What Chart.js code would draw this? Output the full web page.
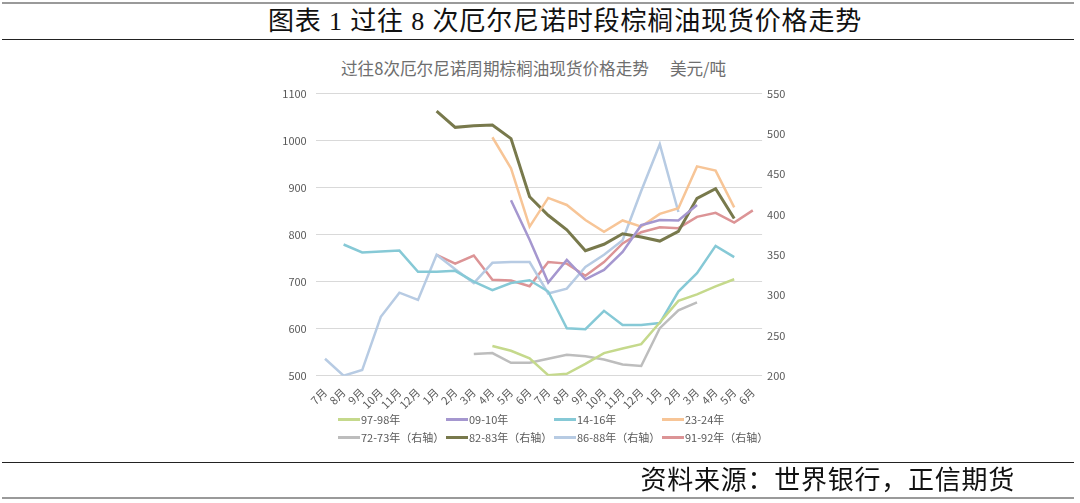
<!DOCTYPE html>
<html lang="zh-CN">
<head>
  <meta charset="UTF-8">
  <title>过往8次厄尔尼诺时段棕榈油现货价格走势</title>
  <script src="https://cdn.jsdelivr.net/npm/chart.js"></script>
  <style>
    html, body {
      margin: 0;
      padding: 0;
      background: #fff;
    }
    body {
      width: 1080px;
      height: 503px;
      position: relative;
      overflow: hidden;
      font-family: "Noto Sans CJK SC", sans-serif;
    }
    .rule {
      position: absolute;
      left: 2px;
      width: 1072px;
    }
    #fig-title {
      position: absolute;
      left: 268px;
      top: 5px;
      font-family: "Liberation Serif", "Noto Sans CJK SC", serif;
      font-size: 26px;
      letter-spacing: 0.85px;
      line-height: 34px;
      color: #111;
      white-space: nowrap;
    }
    #chart-title {
      position: absolute;
      left: 341px;
      top: 57px;
      font-size: 16.6px;
      line-height: 22px;
      color: #6e6e6e;
      white-space: nowrap;
    }
    #chart-title span {
      margin-left: 21px;
    }
    #source {
      position: absolute;
      right: 65px;
      top: 464px;
      font-family: "Liberation Serif", "Noto Sans CJK SC", serif;
      font-size: 26px;
      letter-spacing: 0.75px;
      line-height: 34px;
      color: #111;
      white-space: nowrap;
    }
    #chart-wrap {
      position: absolute;
      left: 0;
      top: 0;
      width: 1080px;
      height: 503px;
    }
    #legend {
      position: absolute;
      left: 338px;
      top: 411px;
      display: grid;
      grid-template-columns: 108px 108px 108px 108px;
      row-gap: 1px;
      font-size: 11px;
      line-height: 17px;
      color: #595959;
    }
    #legend span.item {
      display: flex;
      align-items: center;
      white-space: nowrap;
    }
    #legend span.mark {
      display: inline-block;
      width: 22px;
      height: 3px;
      margin-right: 1px;
    }
  </style>
</head>
<body>

<div class="rule" style="top:2px;height:2px;background:#9a9a9a"></div>
<div id="fig-title">图表 1 过往 8 次厄尔尼诺时段棕榈油现货价格走势</div>
<div class="rule" style="top:39px;height:1px;background:#222"></div>

<div id="chart-title">过往8次厄尔尼诺周期棕榈油现货价格走势<span>美元/吨</span></div>

<div id="chart-wrap"><canvas id="grafico"></canvas></div>
<div id="legend"></div>

<div class="rule" style="top:462px;height:1px;background:#222"></div>
<div id="source">资料来源：世界银行，正信期货</div>
<div class="rule" style="top:497px;height:2px;background:#9a9a9a"></div>

<script>
  // categorias (mes de cada ciclo, 24 meses)
  const meses = ['7月','8月','9月','10月','11月','12月','1月','2月','3月','4月','5月','6月',
                 '7月','8月','9月','10月','11月','12月','1月','2月','3月','4月','5月','6月'];

  // eixo esquerdo
  const s9798 = [null,null,null,null,null,null,null,null,null,
                 563,553,537,501,504,525,548,558,567,613,659,673,690,705,null];
  const s0910 = [null,null,null,null,null,null,null,null,null,null,
                 873,789,698,746,705,725,763,820,831,830,863,null,null,null];
  const s1416 = [null,779,762,764,766,721,721,723,700,682,697,703,
                 679,601,599,638,608,608,612,679,718,776,752,null];
  const s2324 = [null,null,null,null,null,null,null,null,null,
                 1007,941,817,878,863,831,806,830,817,844,856,945,936,858,null];

  // eixo direito
  const s7273 = [null,null,null,null,null,null,null,null,
                 227,228,216,216,221,226,224,220,214,212,259,281,291,null,null,null];
  const s8283 = [null,null,null,null,null,null,
                 528,508,510,511,494,422,399,381,355,363,376,372,367,379,420,432,395,null];
  const s8688 = [221,200,207,273,303,294,350,332,315,340,341,341,
                 302,308,335,350,368,429,487,403,null,null,null,null];
  const s9192 = [null,null,null,null,null,null,
                 350,339,349,319,318,311,341,339,324,341,364,378,384,383,397,402,390,405];

  const ticksEsq = { min: 500, max: 1100, passo: 100 };
  const ticksDir = { min: 200, max: 550, passo: 50 };

  const series = [
    { nome: '97-98年', dados: s9798, eixo: 'y',  cor: '#c5d98c' },
    { nome: '09-10年', dados: s0910, eixo: 'y',  cor: '#a597cf' },
    { nome: '14-16年', dados: s1416, eixo: 'y',  cor: '#86c9d6' },
    { nome: '23-24年', dados: s2324, eixo: 'y',  cor: '#f7c597' },
    { nome: '72-73年（右轴）', dados: s7273, eixo: 'y1', cor: '#bdbdbd' },
    { nome: '82-83年（右轴）', dados: s8283, eixo: 'y1', cor: '#78794c' },
    { nome: '86-88年（右轴）', dados: s8688, eixo: 'y1', cor: '#b7cbe3' },
    { nome: '91-92年（右轴）', dados: s9192, eixo: 'y1', cor: '#dc9496' }
  ];

  const fonteTick = { family: '"Noto Sans CJK SC", sans-serif', size: 11 };

  const ctx = document.getElementById('grafico').getContext('2d');
  const chart = new Chart(ctx, {
    type: 'line',
    data: {
      labels: meses,
      datasets: series.map(s => ({
        label: s.nome,
        data: s.dados,
        yAxisID: s.eixo,
        borderColor: s.cor,
        backgroundColor: s.cor,
        borderWidth: s.nome.startsWith('82') ? 3 : 2.5,
        pointRadius: 0,
        tension: 0,
        spanGaps: false
      }))
    },
    options: {
      responsive: true,
      maintainAspectRatio: false,
      animation: false,
      layout: { padding: { top: 93.5, left: 0, right: 0, bottom: 0 } },
      plugins: {
        legend: { display: false },
        title: { display: false },
        tooltip: { enabled: false }
      },
      scales: {
        x: {
          offset: true,
          grid: { display: false },
          border: { display: false },
          ticks: {
            autoSkip: false,
            minRotation: 45,
            maxRotation: 45,
            padding: 2,
            color: '#595959',
            font: fonteTick
          },
          afterFit: s => { s.height = 503 - 375.7; }
        },
        y: {
          position: 'left',
          min: ticksEsq.min,
          max: ticksEsq.max,
          grid: { color: '#d9d9d9', lineWidth: 1, drawTicks: false },
          border: { display: false },
          ticks: {
            stepSize: ticksEsq.passo,
            padding: 9,
            color: '#595959',
            font: fonteTick,
            callback: v => String(v)
          },
          afterFit: s => { s.width = 315.7; }
        },
        y1: {
          position: 'right',
          min: ticksDir.min,
          max: ticksDir.max,
          grid: { display: false, drawTicks: false },
          border: { display: false },
          ticks: {
            stepSize: ticksDir.passo,
            padding: 5,
            color: '#595959',
            font: fonteTick,
            callback: v => String(v)
          },
          afterFit: s => { s.width = 1080 - 762.1; }
        }
      }
    }
  });

  // legenda em grade 4 x 2
  const legenda = document.getElementById('legend');
  series.forEach(s => {
    const item = document.createElement('span');
    item.className = 'item';
    item.innerHTML = `<span class="mark" style="background:${s.cor}"></span>${s.nome}`;
    legenda.appendChild(item);
  });
</script>

</body>
</html>
